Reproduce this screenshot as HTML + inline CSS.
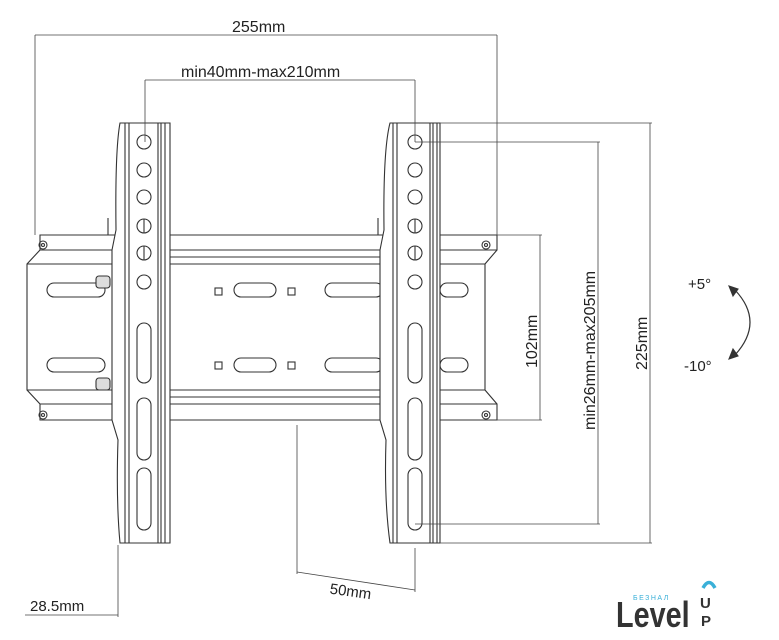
<!DOCTYPE html>
<html><head><meta charset="utf-8"><style>
html,body{margin:0;padding:0;background:#fff;}
svg{display:block;}
text{font-family:"Liberation Sans",sans-serif;fill:#222;}
</style></head><body>
<svg width="779" height="640" viewBox="0 0 779 640" xmlns="http://www.w3.org/2000/svg">
<g fill="none" stroke="#333" stroke-width="1.1">
<path d="M40 235 H497 V250 L485 264 V390 L497 404 V420 H40 V404 L27 390 V264 L40 250 Z" fill="#fff"/>
<line x1="40" y1="250" x2="497" y2="250"/>
<line x1="40" y1="404" x2="497" y2="404"/>
<line x1="27" y1="264" x2="485" y2="264"/>
<line x1="27" y1="390" x2="485" y2="390"/>
<line x1="170" y1="257" x2="385" y2="257"/>
<line x1="170" y1="397" x2="385" y2="397"/>
<circle cx="43" cy="245" r="4"/><circle cx="43" cy="245" r="1.5"/>
<circle cx="43" cy="415" r="4"/><circle cx="43" cy="415" r="1.5"/>
<circle cx="486" cy="245" r="4"/><circle cx="486" cy="245" r="1.5"/>
<circle cx="486" cy="415" r="4"/><circle cx="486" cy="415" r="1.5"/>
<rect x="47" y="283" width="58" height="14" rx="7"/>
<rect x="47" y="358" width="58" height="14" rx="7"/>
<rect x="234" y="283" width="42" height="14" rx="7"/>
<rect x="234" y="358" width="42" height="14" rx="7"/>
<rect x="325" y="283" width="58" height="14" rx="7"/>
<rect x="325" y="358" width="58" height="14" rx="7"/>
<rect x="440" y="283" width="28" height="14" rx="7"/>
<rect x="440" y="358" width="28" height="14" rx="7"/>
<rect x="215" y="288" width="7" height="7"/><rect x="288" y="288" width="7" height="7"/>
<rect x="215" y="362" width="7" height="7"/><rect x="288" y="362" width="7" height="7"/>
<rect x="96" y="276" width="14" height="12" rx="3" fill="#ddd"/>
<rect x="96" y="378" width="14" height="12" rx="3" fill="#ddd"/>
<line x1="108" y1="218" x2="108" y2="235"/>
<line x1="378" y1="218" x2="378" y2="235"/>
<path d="M120 123 H170 V543 H120 Q116 500 118 440 L112 420 V250 L116 230 Q115 150 120 123 Z" fill="#fff"/>
<line x1="125" y1="123" x2="125" y2="543"/><line x1="129" y1="123" x2="129" y2="543"/>
<line x1="158" y1="123" x2="158" y2="543"/><line x1="161" y1="123" x2="161" y2="543"/><line x1="165" y1="123" x2="165" y2="543"/>
<circle cx="144" cy="142" r="7"/><circle cx="144" cy="170" r="7"/><circle cx="144" cy="197" r="7"/>
<circle cx="144" cy="226" r="7"/><line x1="144" y1="219" x2="144" y2="233"/>
<circle cx="144" cy="253" r="7"/><line x1="144" y1="246" x2="144" y2="260"/>
<circle cx="144" cy="282" r="7"/>
<rect x="137" y="323" width="14" height="60" rx="7"/>
<rect x="137" y="398" width="14" height="62" rx="7"/>
<rect x="137" y="468" width="14" height="62" rx="7"/>
<path d="M390 123 H440 V543 H390 Q384 500 386 440 L380 420 V250 L384 230 Q383 150 390 123 Z" fill="#fff"/>
<line x1="393" y1="123" x2="393" y2="543"/><line x1="397" y1="123" x2="397" y2="543"/>
<line x1="430" y1="123" x2="430" y2="543"/><line x1="433" y1="123" x2="433" y2="543"/><line x1="437" y1="123" x2="437" y2="543"/>
<circle cx="415" cy="142" r="7"/><circle cx="415" cy="170" r="7"/><circle cx="415" cy="197" r="7"/>
<circle cx="415" cy="226" r="7"/><line x1="415" y1="219" x2="415" y2="233"/>
<circle cx="415" cy="253" r="7"/><line x1="415" y1="246" x2="415" y2="260"/>
<circle cx="415" cy="282" r="7"/>
<rect x="408" y="323" width="14" height="60" rx="7"/>
<rect x="408" y="398" width="14" height="62" rx="7"/>
<rect x="408" y="468" width="14" height="62" rx="7"/>
<g stroke="#444" stroke-width="0.8">
<line x1="35" y1="35" x2="497" y2="35"/>
<line x1="35" y1="35" x2="35" y2="235"/>
<line x1="497" y1="35" x2="497" y2="235"/>
<line x1="145" y1="80" x2="415" y2="80"/>
<line x1="145" y1="80" x2="145" y2="142"/>
<line x1="415" y1="80" x2="415" y2="142"/>
<line x1="415" y1="142" x2="600" y2="142"/>
<line x1="415" y1="524" x2="600" y2="524"/>
<line x1="598" y1="142" x2="598" y2="524"/>
<line x1="440" y1="123" x2="652" y2="123"/>
<line x1="440" y1="543" x2="652" y2="543"/>
<line x1="650" y1="123" x2="650" y2="543"/>
<line x1="497" y1="235" x2="542" y2="235"/>
<line x1="497" y1="420" x2="542" y2="420"/>
<line x1="540" y1="235" x2="540" y2="420"/>
<line x1="297" y1="425" x2="297" y2="574"/>
<line x1="415" y1="548" x2="415" y2="592"/>
<line x1="297" y1="572" x2="415" y2="590"/>
<line x1="118" y1="545" x2="118" y2="617"/>
<line x1="25" y1="615" x2="118" y2="615"/>
</g>
<path d="M735 290 Q765 322 735 355" stroke="#333" stroke-width="1.2"/>
<path d="M729 286 L738 289 L733 296 Z" fill="#333"/>
<path d="M729 359 L738 356 L733 349 Z" fill="#333"/>
</g>
<text x="232" y="32" font-size="16">255mm</text>
<text x="181" y="77" font-size="16">min40mm-max210mm</text>
<text x="0" y="0" font-size="16" transform="translate(537 368) rotate(-90)">102mm</text>
<text x="0" y="0" font-size="16" transform="translate(595 430) rotate(-90)">min26mm-max205mm</text>
<text x="0" y="0" font-size="16" transform="translate(647 370) rotate(-90)">225mm</text>
<text x="688" y="289" font-size="15">+5°</text>
<text x="684" y="371" font-size="15">-10°</text>
<text x="330" y="597" font-size="15" transform="rotate(8 355 590)">50mm</text>
<text x="30" y="611" font-size="15">28.5mm</text>
<text x="633" y="600" font-size="7" style="fill:#3ab0d8;letter-spacing:1.5px">БЕЗНАЛ</text>
<text x="0" y="0" font-size="36" font-weight="bold" style="fill:#333" transform="translate(616 627) scale(0.8 1)">Level</text>
<text x="700" y="608" font-size="15" font-weight="bold" style="fill:#333">U</text>
<text x="701" y="626" font-size="15" font-weight="bold" style="fill:#333">P</text>
<path d="M703 588 Q709 577 715 588" stroke="#3ab0d8" stroke-width="3.5" fill="none"/>
</svg>
</body></html>
